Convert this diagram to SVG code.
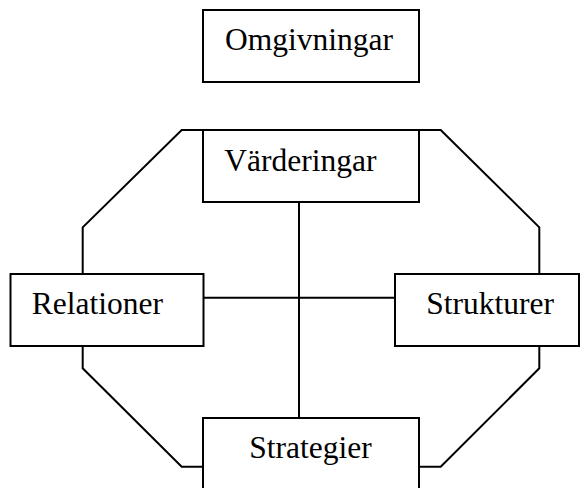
<svg xmlns="http://www.w3.org/2000/svg" width="580" height="488" viewBox="0 0 580 488">
<style>
.box{fill:#fff;stroke:#000;stroke-width:2}
.ln{fill:none;stroke:#000;stroke-width:2}
text{font-family:"Liberation Serif","Times New Roman",serif;font-size:31.5px;fill:#000}
</style>
<rect width="580" height="488" fill="#fff"/>
<g id="connectors">
<path class="ln" d="M181.7,130 L440.7,130 L539.3,227.3 L539.3,368.3 L440.7,466.7 L181.7,466.7 L82.7,368.3 L82.7,227.3 Z"/>
<line class="ln" x1="299" y1="202" x2="299" y2="418"/>
<line class="ln" x1="203" y1="297.7" x2="395" y2="297.7"/>
</g>
<g id="omgivningar">
<rect class="box" x="203" y="10" width="216" height="72"/>
<text x="225" y="50">Omgivningar</text>
</g>
<g id="varderingar">
<rect class="box" x="203" y="130" width="216" height="72"/>
<text x="224.3" y="171">Värderingar</text>
</g>
<g id="relationer">
<rect class="box" x="10.5" y="274" width="193" height="72"/>
<text x="31.7" y="313.5">Relationer</text>
</g>
<g id="strukturer">
<rect class="box" x="395" y="274" width="184" height="72"/>
<text x="426.3" y="314">Strukturer</text>
</g>
<g id="strategier">
<rect class="box" x="203" y="418" width="216" height="80"/>
<text x="249.3" y="458.3">Strategier</text>
</g>
</svg>
